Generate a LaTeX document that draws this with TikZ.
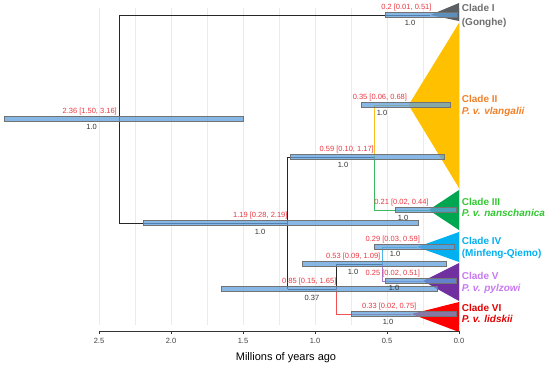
\documentclass[tikz,border=0pt]{standalone}
\usepackage{fontspec}
\setmainfont{Liberation Sans}
\definecolor{barblue}{RGB}{95,160,220}
\definecolor{agered}{RGB}{235,55,65}
\definecolor{triI}{RGB}{90,95,100}
\definecolor{txtI}{RGB}{110,110,110}
\definecolor{triII}{RGB}{255,192,0}
\definecolor{txtII}{RGB}{240,128,40}
\definecolor{lineII}{RGB}{250,190,30}
\definecolor{triIII}{RGB}{0,166,80}
\definecolor{txtIII}{RGB}{50,200,50}
\definecolor{lineIII}{RGB}{60,185,95}
\definecolor{triIV}{RGB}{0,176,240}
\definecolor{txtIV}{RGB}{0,176,240}
\definecolor{lineIV}{RGB}{80,185,235}
\definecolor{triV}{RGB}{112,48,160}
\definecolor{txtV}{RGB}{200,120,240}
\definecolor{lineV}{RGB}{170,120,210}
\definecolor{triVI}{RGB}{255,0,0}
\definecolor{txtVI}{RGB}{225,0,0}
\definecolor{lineVI}{RGB}{240,80,80}
\begin{document}
\begin{tikzpicture}[x=-144pt,y=-1pt,
  gridline/.style={draw=black!8, line width=0.6pt},
  branch/.style={draw=black!85, line width=0.8pt},
  hpd/.style={fill=barblue, fill opacity=0.75, draw=black!55, line width=0.5pt},
  age/.style={font=\fontsize{7.5}{9}\selectfont, text=agered, inner sep=0pt, anchor=base east},
  post/.style={font=\fontsize{7.5}{9}\selectfont, text=black!80, inner sep=0pt, anchor=base},
  clade/.style={font=\fontsize{10}{12}\selectfont\bfseries, inner sep=0pt, anchor=base west},
  taxon/.style={font=\fontsize{10}{12}\selectfont\bfseries\itshape, inner sep=0pt, anchor=base west},
  ticklab/.style={font=\fontsize{7.5}{9}\selectfont, text=black!75, inner sep=0pt, anchor=base},
]
\useasboundingbox (3.1875,0) rectangle (-0.631944,365);
% grid
\foreach \t in {0,0.25,0.5,0.75,1.0,1.25,1.5,1.75,2.0,2.25,2.5}
  \draw[gridline] (\t,8) -- (\t,325);
% coordinates of the tree
\coordinate (rI) at (2.36,15);
\coordinate (rB) at (2.36,223);
\coordinate (aI) at (0.2,15);
\coordinate (n119) at (1.19,223);
\coordinate (n119t) at (1.19,157);
\coordinate (n119b) at (1.19,289);
\coordinate (n059) at (0.59,157);
\coordinate (n059t) at (0.59,105);
\coordinate (n059b) at (0.59,210);
\coordinate (aII) at (0.35,105);
\coordinate (aIII) at (0.21,210);
\coordinate (n085) at (0.85,289);
\coordinate (n085t) at (0.85,264);
\coordinate (n085b) at (0.85,314);
\coordinate (n053) at (0.53,264);
\coordinate (n053t) at (0.53,247);
\coordinate (n053b) at (0.53,281);
\coordinate (aIV) at (0.29,247);
\coordinate (aV) at (0.25,281);
\coordinate (aVI) at (0.33,314);
% branches
\draw[branch] (aI) -- (rI) -- (rB) -- (n119);
\draw[branch] (n119t) -- (n119b);
\draw[branch] (n119t) -- (n059);
\draw[branch] (n119b) -- (n085);
\draw[branch, draw=lineII] (n059) -- (n059t) -- (aII);
\draw[branch, draw=lineIII] (n059) -- (n059b) -- (aIII);
\draw[branch] (n085) -- (n085t) -- (n053);
\draw[branch, draw=lineVI] (n085) -- (n085b) -- (aVI);
\draw[branch, draw=lineIV] (n053) -- (n053t) -- (aIV);
\draw[branch, draw=lineV] (n053) -- (n053b) -- (aV);
% collapsed clades
\fill[triI] (aI) -- (0,3) -- (0,21) -- cycle;
\fill[triII] (aII) -- (0,23) -- (0,188) -- cycle;
\fill[triIII] (aIII) -- (0,190) -- (0,230) -- cycle;
\fill[triIV] (aIV) -- (0,232) -- (0,262) -- cycle;
\fill[triV] (aV) -- (0,263) -- (0,301) -- cycle;
\fill[triVI] (aVI) -- (0,302) -- (0,332) -- cycle;
% HPD bars
\path[hpd] (3.16,116.7) rectangle (1.50,121.3);
\path[hpd] (0.51,12.7) rectangle (0.01,17.3);
\path[hpd] (2.19,220.7) rectangle (0.28,225.3);
\path[hpd] (1.17,154.7) rectangle (0.10,159.3);
\path[hpd] (0.68,102.7) rectangle (0.06,107.3);
\path[hpd] (0.44,207.7) rectangle (0.02,212.3);
\path[hpd] (1.65,286.7) rectangle (0.15,291.3);
\path[hpd] (1.09,261.7) rectangle (0.09,266.3);
\path[hpd] (0.59,244.7) rectangle (0.03,249.3);
\path[hpd] (0.51,278.7) rectangle (0.02,283.3);
\path[hpd] (0.75,311.7) rectangle (0.02,316.3);
% age labels
\node[age] (g236) at (2.375,113.5) {2.36 [1.50, 3.16]};
\node[age] (g020) at (0.19,9.5) {0.2 [0.01, 0.51]};
\node[age] (g119) at (1.19,217.5) {1.19 [0.28, 2.19]};
\node[age] (g059) at (0.59,151.5) {0.59 [0.10, 1.17]};
\node[age] (g035) at (0.36,99.5) {0.35 [0.06, 0.68]};
\node[age] (g021) at (0.21,204.5) {0.21 [0.02, 0.44]};
\node[age] (g085) at (0.85,283.5) {0.85 [0.15, 1.65]};
\node[age] (g053) at (0.545,258.5) {0.53 [0.09, 1.09]};
\node[age] (g029) at (0.27,241.5) {0.29 [0.03, 0.59]};
\node[age] (g025) at (0.27,275.5) {0.25 [0.02, 0.51]};
\node[age] (g033) at (0.295,308.5) {0.33 [0.02, 0.75]};
% posterior labels
\node[post] (p236) at ({(459-91.7)/144},129.7) {1.0};
\node[post] (p020) at ({(459-410)/144},25.7) {1.0};
\node[post] (p119) at ({(459-260)/144},234.7) {1.0};
\node[post] (p059) at ({(459-343)/144},167.7) {1.0};
\node[post] (p035) at ({(459-382)/144},115.4) {1.0};
\node[post] (p021) at ({(459-403)/144},220.4) {1.0};
\node[post] (p085) at ({(459-312)/144},300) {0.37};
\node[post] (p053) at ({(459-353)/144},274.7) {1.0};
\node[post] (p029) at ({(459-395)/144},256.7) {1.0};
\node[post] (p025) at ({(459-394)/144},290.7) {1.0};
\node[post] (p033) at ({(459-388)/144},324) {1.0};
% clade labels
\node[clade, text=txtI] (cI) at (-0.0188,11.9) {Clade I};
\node[clade, text=txtI] (sI) at (-0.0188,25.3) {(Gonghe)};
\node[clade, text=txtII] (cII) at (-0.0188,102.9) {Clade II};
\node[taxon, text=txtII] (sII) at (-0.0188,114.3) {P. v. vlangalii};
\node[clade, text=txtIII] (cIII) at (-0.0188,205.3) {Clade III};
\node[taxon, text=txtIII] (sIII) at (-0.0188,216.9) {P. v. nanschanica};
\node[clade, text=txtIV] (cIV) at (-0.0188,244.6) {Clade IV};
\node[clade, text=txtIV] (sIV) at (-0.0188,256.3) {(Minfeng-Qiemo)};
\node[clade, text=txtV] (cV) at (-0.0188,279.6) {Clade V};
\node[taxon, text=txtV] (sV) at (-0.0188,291.3) {P. v. pylzowi};
\node[clade, text=txtVI] (cVI) at (-0.0188,311.3) {Clade VI};
\node[taxon, text=txtVI] (sVI) at (-0.0188,322.9) {P. v. lidskii};
% axis
\coordinate (axL) at (2.5,331);
\coordinate (axR) at (0,331);
\draw[draw=black!80, line width=0.7pt] (axL) -- (axR);
\foreach \t/\l [count=\i] in {2.5/2.5,2.0/2.0,1.5/1.5,1.0/1.0,0.5/0.5,0/0.0} {
  \draw[draw=black!80, line width=0.6pt] (\t,331) -- (\t,334);
  \node[ticklab] (tick\i) at (\t,343.7) {\l};
}
\node[font=\fontsize{11}{13}\selectfont, inner sep=0pt, anchor=base] (xlab) at ({(459-286)/144},360) {Millions of years ago};
\end{tikzpicture}
\end{document}
